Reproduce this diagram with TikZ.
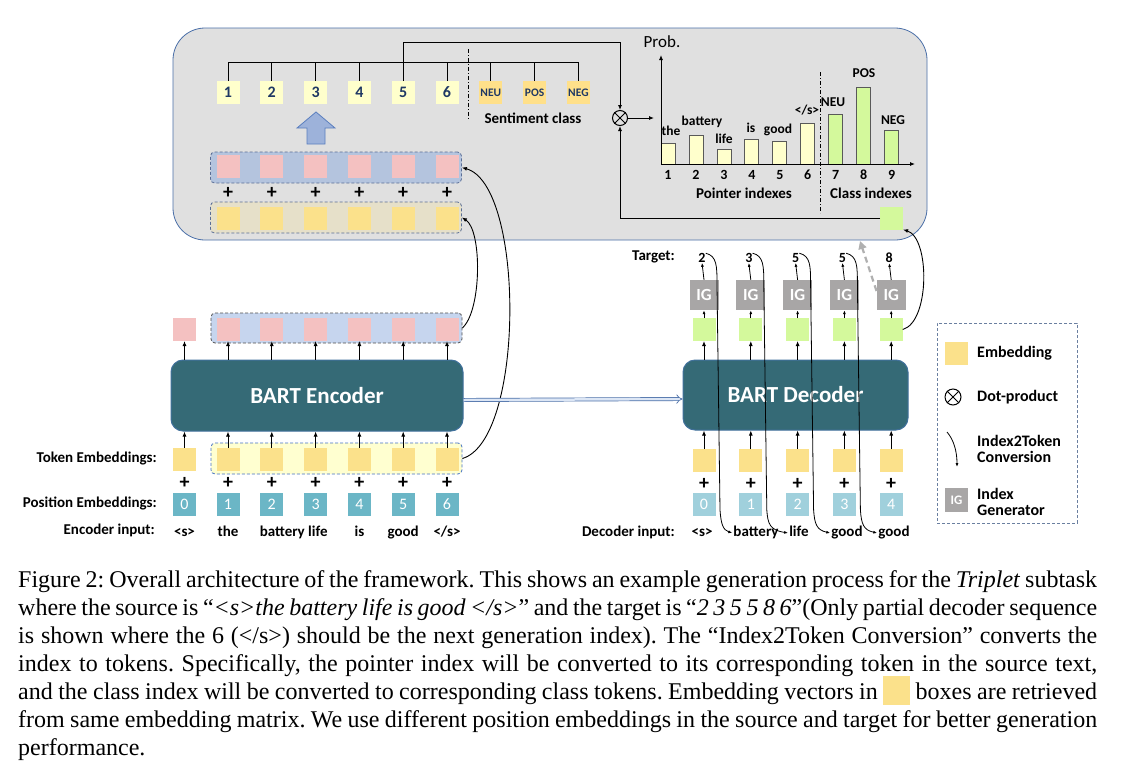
\documentclass[tikz,border=0pt]{standalone}
\usepackage{fontspec}
\setmainfont{Liberation Serif}
\newfontfamily\calib{Carlito}
\usetikzlibrary{arrows.meta,calc}
\definecolor{cGray}{HTML}{E0E0E0}
\definecolor{cBord}{HTML}{4A6FA8}
\definecolor{cPtrY}{HTML}{FFFFCC}
\definecolor{cClsY}{HTML}{FFE08A}
\definecolor{cNavy}{HTML}{1F3864}
\definecolor{cPink}{HTML}{F4C1C1}
\definecolor{cPinkG}{HTML}{B4C4DE}
\definecolor{cPinkGb}{HTML}{C6D5EE}
\definecolor{cBeige}{HTML}{E6E0C9}
\definecolor{cEmbY}{HTML}{FBE18B}
\definecolor{cTokG}{HTML}{FFFFD0}
\definecolor{cTeal}{HTML}{356A76}
\definecolor{cEncB}{HTML}{41719C}
\definecolor{cPosE}{HTML}{6BB6C6}
\definecolor{cPosL}{HTML}{A0D0DC}
\definecolor{cGreen}{HTML}{D4F99C}
\definecolor{cIG}{HTML}{A8A6A6}
\definecolor{cArrF}{HTML}{9DB2DA}
\definecolor{cArrB}{HTML}{5B7FBF}
\definecolor{cGrpB}{HTML}{5A6E96}
\definecolor{cGrpDk}{HTML}{505050}
\definecolor{cGrpBl}{HTML}{4472C4}
\definecolor{cBarB}{HTML}{595959}
\definecolor{cLegB}{HTML}{6A7FA0}
\definecolor{cDashG}{HTML}{B0B0B0}
\definecolor{cDblF}{HTML}{DCE6F5}
\newcommand{\cfb}[1]{\calib\bfseries\fontsize{#1}{#1}\selectfont}
\newcommand{\cfr}[1]{\calib\fontsize{#1}{#1}\selectfont}
\begin{document}
\begin{tikzpicture}[x=1pt,y=-1pt,
  sq/.style={minimum width=23pt, minimum height=23pt, inner sep=0pt, outer sep=0pt},
  ptr/.style={sq, fill=cPtrY, text=cNavy, font=\cfb{16}},
  cls/.style={sq, fill=cClsY, text=cNavy, font=\cfb{11.5}},
  pinkbox/.style={sq, fill=cPink},
  emb/.style={sq, fill=cEmbY},
  grn/.style={sq, fill=cGreen},
  posbox/.style={sq, fill=cPosE, text=white, font=\cfr{16}},
  posboxL/.style={sq, fill=cPosL, text=white, font=\cfr{16}},
  igbox/.style={minimum width=29pt, minimum height=30pt, inner sep=0pt, fill=cIG, text=white, font=\cfb{17}},
  grp/.style={dashed, dash pattern=on 3pt off 2pt, line width=0.8pt, rounded corners=4pt, inner sep=0pt, minimum width=251pt, minimum height=31pt},
  lab/.style={font=\cfb{15}, inner sep=0pt, text height=10pt, text depth=3pt},
  clab/.style={font=\cfb{13.5}, inner sep=0pt, text height=9pt, text depth=2.5pt},
  plusSign/.style={font=\cfb{20}, inner sep=0pt},
  arr/.style={-{Latex[length=5pt,width=4pt]}, line width=0.9pt},
  arrS/.style={-{Latex[length=4pt,width=3pt]}, line width=0.8pt},
  bar/.style={draw=cBarB, line width=0.8pt, minimum width=14pt, inner sep=0pt, outer sep=0pt},
  dashdot/.style={line width=0.9pt, dash pattern=on 4pt off 2pt on 1pt off 2pt}
]
\useasboundingbox (0,0) rectangle (1122,769);
\fill[white] (0,0) rectangle (1122,769);

% ---------------- top box ----------------
\node[draw=cBord, line width=0.8pt, fill=cGray, rounded corners=32pt, minimum width=754pt, minimum height=212pt, inner sep=0pt] (topbox) at (550,134) {};

\foreach \i in {1,...,6} {
  \pgfmathsetmacro\x{228+43.8*(\i-1)}
  \node[ptr] (t\i) at (\x,92.5) {\i};
}
\node[cls] (c1) at (490.8,92.5) {NEU};
\node[cls] (c2) at (534.6,92.5) {POS};
\node[cls] (c3) at (578.4,92.5) {NEG};
\coordinate (brY) at (0,62);
\coordinate (topY) at (0,42);
\foreach \n in {t1,t2,t3,t4,t5,t6,c1,c2,c3}
  \draw[line width=0.9pt] (\n.north) -- (\n.north |- brY);
\draw[line width=0.9pt] (t1.north |- brY) -- (c3.north |- brY);

\node[circle, draw, line width=1pt, minimum size=15pt, inner sep=0pt] (dot) at (620,118) {};
\draw[line width=1pt] (dot.north west) -- (dot.south east) (dot.north east) -- (dot.south west);
\draw[arr] (t5.north |- brY) -- (t5.north |- topY) -| (dot.north);

\draw[dashdot] (468,49) -- (468,120);
\node[lab] (sc) at (533,120) {Sentiment class};

\draw[fill=cArrF, draw=cArrB, line width=0.8pt] (307,144) -- (307,128) -- (297,128) -- (316,112) -- (335,128) -- (325,128) -- (325,144) -- cycle;

\node[grp, draw=cGrpB, fill=cPinkG] (tpg) at (336,167.5) {};
\node[grp, draw=cGrpB, fill=cBeige] (tyg) at (336,217.5) {};
\foreach \i in {1,...,6} {
  \pgfmathsetmacro\x{228+43.8*(\i-1)}
  \node[pinkbox] (tp\i) at (\x,166.5) {};
  \node[plusSign] (tpl\i) at (\x,193) {+};
  \node[emb] (ty\i) at (\x,218.5) {};
}

% chart
\coordinate (O) at (661,164);
\coordinate (yTop) at (661,55);
\coordinate (xEnd) at (915,164);
\foreach \i/\h in {1/21,2/29,3/15,4/25,5/23,6/41} {
  \pgfmathsetmacro\x{668+27.95*(\i-1)}
  \node[bar, fill=cPtrY, minimum height=\h pt, anchor=south] (b\i) at (\x,164) {};
}
\foreach \i/\h in {7/50,8/77,9/34} {
  \pgfmathsetmacro\x{668+27.95*(\i-1)}
  \node[bar, fill=cGreen, minimum height=\h pt, anchor=south] (b\i) at (\x,164) {};
}
\draw[arr] (O) -- (yTop);
\draw[arr] (O) -- (xEnd);
\foreach \i in {1,...,9} {
  \pgfmathsetmacro\x{668+27.95*(\i-1)}
  \node[font=\cfb{14}, inner sep=0pt] (n\i) at (\x,175) {\i};
}
\node[clab] at (671,132) {the};
\node[clab] at (702,122) {battery};
\node[clab] at (724,140) {life};
\node[clab] at (751,129) {is};
\node[clab] at (778,130) {good};
\node[clab] at (807,111) {</s>};
\node[clab] at (833,103) {NEU};
\node[clab] at (864,74) {POS};
\node[clab] at (893,121) {NEG};
\node[font=\cfr{17}, inner sep=0pt] (prob) at (662,42) {Prob.};
\node[lab] (pidx) at (744,195) {Pointer indexes};
\node[lab] (cidx) at (871,195) {Class indexes};
\draw[dashdot] (820,72) -- (820,213);
\coordinate (chIn) at (654,118);
\draw[arr] (dot.east) -- (chIn);

\node[grn] (gsq) at (891.5,218) {};
\draw[arr] (gsq.west) -| (dot.south);

% ---------------- encoder ----------------
\node[draw=cEncB, line width=1pt, fill=cTeal, rounded corners=12pt, minimum width=292pt, minimum height=71pt, text=white, font=\cfb{23}] (enc) at (317,395.5) {BART Encoder};

\node[grp, draw=cGrpDk, fill=cPinkGb, minimum height=30pt] (eog) at (336.5,328) {};
\node[grp, draw=cGrpBl, fill=cTokG] (teg) at (336.5,458.5) {};
\node[pinkbox] (eo0) at (184.5,329.5) {};
\node[emb] (te0) at (184.5,459) {};
\node[plusSign] (epl0) at (184.5,483) {+};
\node[posbox] (pe0) at (184.5,504.5) {0};
\foreach \i in {1,...,6} {
  \pgfmathsetmacro\x{228+43.8*(\i-1)}
  \node[pinkbox] (eo\i) at (\x,329.5) {};
  \node[emb] (te\i) at (\x,459) {};
  \node[plusSign] (epl\i) at (\x,483) {+};
  \node[posbox] (pe\i) at (\x,504.5) {\i};
}
\foreach \i in {0,...,6} {
  \draw[arr] (eo\i.south |- enc.north) -- (eo\i.south);
  \draw[arr] (te\i.north) -- (te\i.north |- enc.south);
}
\node[lab] (ew0) at (184.5,533) {<s>};
\node[lab] (ew1) at (228,533) {the};
\node[lab] (ew2) at (293.7,533) {battery life};
\node[lab] (ew4) at (359.4,533) {is};
\node[lab] (ew5) at (403.2,533) {good};
\node[lab] (ew6) at (447,533) {</s>};
\node[lab, anchor=east] (lTok) at (157,459) {Token Embeddings:};
\node[lab, anchor=east] (lPos) at (157,504) {Position Embeddings:};
\node[lab, anchor=east] (lEnc) at (155,531) {Encoder input:};

\draw[arr] (teg.east) .. controls (525,440) and (525,185) .. (tpg.east);
\draw[arr] (eog.east) .. controls (482,310) and (482,230) .. (tyg.east);

% ---------------- decoder ----------------
\node[draw=cEncB, line width=1pt, fill=cTeal, rounded corners=12pt, minimum width=225pt, minimum height=70pt, text=white, font=\cfb{23}] (dec) at (795.5,395) {BART Decoder};

\draw[double=cDblF, double distance=2.5pt, draw=cBord, line width=0.7pt, -{Implies}] ([yshift=-4.5pt]enc.east) -- ([yshift=-4pt]dec.west);

\foreach \i/\t in {1/2,2/3,3/5,4/5,5/8} {
  \pgfmathsetmacro\x{704+46.8*(\i-1)}
  \pgfmathtruncatemacro\p{\i-1}
  \node[grn] (dg\i) at (\x,329.5) {};
  \node[igbox] (ig\i) at (\x,295) {IG};
  \node[font=\cfb{14}, inner sep=0pt] (tg\i) at (\x-2,258) {\t};
  \node[emb] (dt\i) at (\x,460.5) {};
  \node[plusSign] (dpl\i) at (\x,484) {+};
  \node[posboxL] (dp\i) at (\x,504.5) {\p};
  \draw[arr] (dg\i.south |- dec.north) -- (dg\i.south);
  \draw[arrS] (dg\i.north) -- (ig\i.south);
  \draw[arrS] (ig\i.north) -- (tg\i.south);
  \draw[arr] (dt\i.north) -- (dt\i.north |- dec.south);
}
\node[lab] (dw1) at (702,533) {<s>};
\node[lab] (dw2) at (756,533) {battery};
\node[lab] (dw3) at (799,533) {life};
\node[lab] (dw4) at (847,533) {good};
\node[lab] (dw5) at (894,533) {good};
\node[lab, anchor=east] (lTg) at (675,257) {Target:};
\node[lab, anchor=east] (lDec) at (675,533) {Decoder input:};

\foreach \i/\j in {1/2,2/3,3/4,4/5} {
  \pgfmathsetmacro\xv{704+46.8*(\i-1)+13}
  \draw[arrS] (tg\i.north east) .. controls (\xv,256) and (\xv,266) .. (\xv,285) -- (\xv+3,510) .. controls (\xv+4,524) and (\xv+6,530) .. ([xshift=-1pt]dw\j.west);
}

\coordinate (dashEnd) at (860,241);
\draw[cDashG, line width=2.2pt, dash pattern=on 6pt off 4pt, -{Triangle[length=8pt,width=8pt]}] ([yshift=4pt]ig5.west) -- (dashEnd);
\draw[arr] (dg5.east) .. controls (930,322) and (930,238) .. (gsq.south east);

% ---------------- legend ----------------
\node[draw=cLegB, dashed, dash pattern=on 3pt off 2pt, line width=0.8pt, minimum width=140pt, minimum height=200pt, inner sep=0pt] (leg) at (1007,423) {};
\node[emb] (lgE) at (956.5,353) {};
\node[font=\cfb{16}, anchor=west, inner sep=0pt] (lgEt) at (977,353) {Embedding};
\node[circle, draw, line width=1pt, minimum size=16pt, inner sep=0pt] (lgD) at (953,397) {};
\draw[line width=1pt] (lgD.north west) -- (lgD.south east) (lgD.north east) -- (lgD.south west);
\node[font=\cfb{16}, anchor=west, inner sep=0pt] (lgDt) at (977,397) {Dot-product};
\coordinate (lc1) at (947,432);
\coordinate (lc2) at (957,467);
\draw[arrS] (lc1) .. controls (954,440) and (957,452) .. (lc2);
\node[font=\cfb{16}, anchor=west, inner sep=0pt, align=left] (lgCt) at (977,448.5) {\fontsize{16}{21}\selectfont Index2Token\\Conversion};
\node[igbox, minimum width=23pt, minimum height=24pt, font=\cfb{13}] (lgI) at (956.5,500) {IG};
\node[font=\cfb{16}, anchor=west, inner sep=0pt, align=left] (lgIt) at (977,502) {\fontsize{16}{21}\selectfont Index\\Generator};

% ---------------- caption ----------------
\begin{scope}[every node/.style={anchor=base west, inner sep=0pt, font=\fontsize{24}{28}\selectfont\frenchspacing}]
\node (cap1) at (18,587) {\makebox[1079pt][s]{Figure 2: Overall architecture of the framework. This shows an example generation process for the \textit{Triplet} subtask}};
\node (cap2) at (18,615) {\makebox[1079pt][s]{where the source is “\textit{<s>the battery life is good </s>}” and the target is “\textit{2 3 5 5 8 6}”(Only partial decoder sequence}};
\node (cap3) at (18,643) {\makebox[1079pt][s]{is shown where the 6 (</s>) should be the next generation index). The “Index2Token Conversion” converts the}};
\node (cap4) at (18,671) {\makebox[1079pt][s]{index to tokens. Specifically, the pointer index will be converted to its corresponding token in the source text,}};
\node (cap5) at (18,699) {\makebox[1079pt][s]{and the class index will be converted to corresponding class tokens. Embedding vectors in \textcolor{cEmbY}{\rule[-6pt]{27pt}{29pt}} boxes are retrieved}};
\node (cap6) at (18,727) {\makebox[1079pt][s]{from same embedding matrix. We use different position embeddings in the source and target for better generation}};
\node (cap7) at (18,755) {performance.};
\end{scope}
\end{tikzpicture}
\end{document}
